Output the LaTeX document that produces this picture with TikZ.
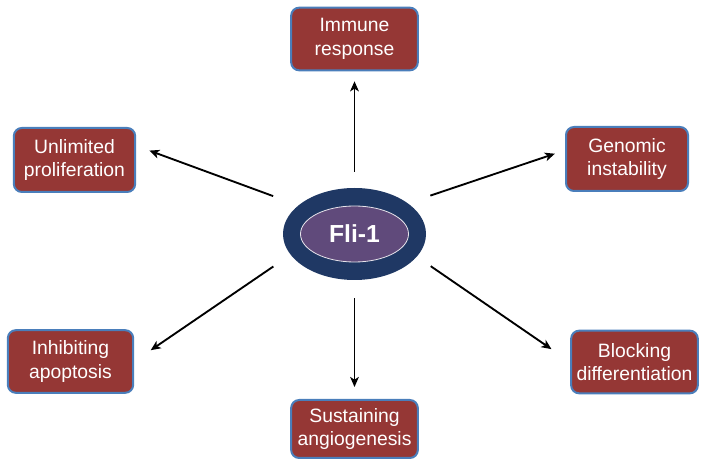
\documentclass[tikz,border=0pt]{standalone}
\usepackage{xcolor}
\usepackage{fontspec}
\setmainfont{Liberation Sans}
\usepackage{tikz}
\usetikzlibrary{arrows.meta,shapes.geometric}

\definecolor{boxred}{HTML}{953735}
\definecolor{boxblue}{HTML}{4A7EBB}
\definecolor{navy}{HTML}{1F3864}
\definecolor{plum}{HTML}{604A7B}

\tikzset{
  effect/.style={draw=boxblue, fill=boxred, line width=1.5pt, rounded corners=6pt,
    text=white, align=center, inner sep=0pt, minimum height=47pt,
    font=\fontsize{14.5}{17.5}\selectfont},
  arr/.style={-{Stealth[length=7.5pt,width=6.5pt,inset=2pt]}, line width=1.4pt, black}
}

\begin{document}
\begin{tikzpicture}[x=0.75pt,y=0.75pt,yscale=-1,xscale=1]
        \useasboundingbox (0,0) rectangle (711,466); %same size as the reference

        %Shape: Ellipse [id:fli-outer]
        \node [ellipse, fill=navy, minimum width=107.25pt, minimum height=69pt, inner sep=0pt] (fli) at (354.5,234) {};
        %Shape: Ellipse [id:fli-inner]
        \node [ellipse, fill=plum, draw=white!85!plum, line width=0.6pt, minimum width=81pt, minimum height=42pt, inner sep=0pt,
               text=white, font=\bfseries\fontsize{18.5}{18.5}\selectfont] (core) at (354.5,234) {Fli-1};

        % Text Node
        \node [effect, minimum width=95pt] (imm) at (354.5,39) {Immune\\response};
        % Text Node
        \node [effect, minimum width=91pt, minimum height=48pt] (prolif) at (74.5,160) {Unlimited\\proliferation};
        % Text Node
        \node [effect, minimum width=91.5pt, minimum height=48pt] (gen) at (627,159) {Genomic\\instability};
        % Text Node
        \node [effect, minimum width=94pt] (apo) at (70.5,361.5) {Inhibiting\\apoptosis};
        % Text Node
        \node [effect, minimum width=95pt] (blk) at (634.5,362) {Blocking\\differentiation};
        % Text Node
        \node [effect, minimum width=95pt, minimum height=43.5pt] (ang) at (354.5,429) {Sustaining\\angiogenesis};

        %Straight Lines [id:arrows]
        \draw [arr, shorten <=12pt, shorten >=7.5pt] (fli) -- (imm);
        \draw [arr, shorten <=20pt, shorten >=10.5pt] (fli.153) -- (prolif.13);
        \draw [arr, shorten <=17.7pt, shorten >=8pt] (fli.30) -- (gen.172);
        \draw [arr, shorten <=15.5pt, shorten >=15pt] (fli.198) -- (apo.east);
        \draw [arr, shorten <=12.5pt, shorten >=17pt] (fli.340) -- (blk.west);
        \draw [arr, shorten <=13.5pt, shorten >=9pt] (fli) -- (ang);
\end{tikzpicture}
\end{document}
